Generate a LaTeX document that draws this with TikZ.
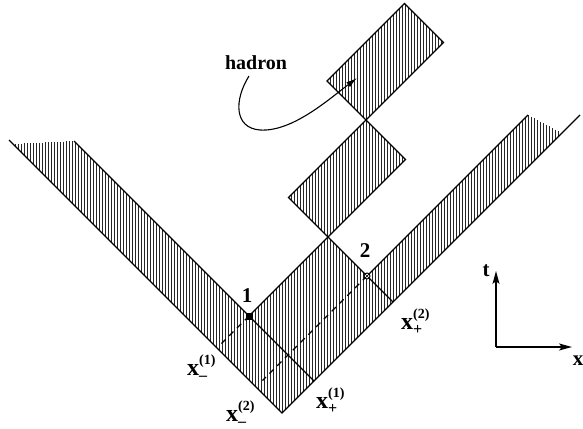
\documentclass[tikz,border=0pt]{standalone}
\usepackage{fontspec}
\setmainfont{Liberation Serif}
\usetikzlibrary{arrows.meta}
\newcommand{\xlc}[2]{x\rlap{\raisebox{11pt}{\fontsize{14}{14}\selectfont(#2)}}\raisebox{-5pt}{\fontsize{16}{16}\selectfont#1}}
\begin{document}
\begin{tikzpicture}[x=1pt,y=-1pt,
  edge/.style={line width=1.3pt, black},
  hatch/.style={line width=1.2pt, black!85},
  lab/.style={font=\fontsize{21}{21}\selectfont\bfseries, inner sep=0pt},
  xlab/.style={font=\fontsize{24}{24}\selectfont\bfseries, inner sep=0pt, anchor=base west},
  dashline/.style={line width=1.1pt, dash pattern=on 6pt off 5pt},
  axis/.style={line width=1.4pt, -{Stealth[length=13pt,width=7pt,inset=3pt]}}]
\useasboundingbox (0,0) rectangle (583,428);
% key points
\coordinate (B) at (282,413);
\coordinate (LO) at (9,140);
\coordinate (LI) at (74,141);
\coordinate (P1) at (249,316);
\coordinate (C) at (328,237);
\coordinate (P2) at (367,276);
\coordinate (RI) at (528,115);
\coordinate (RO) at (580,115);
\coordinate (D1) at (314,381);
\coordinate (D2) at (393,302);
% box corners
\coordinate (A1) at (288.5,197.5);
\coordinate (A2) at (366,120);
\coordinate (A3) at (405.5,159.5);
\coordinate (E1) at (327,81);
\coordinate (E2) at (404.5,3.5);
\coordinate (E3) at (443.5,42.5);
% hatching of the strips and the collision region
\foreach \i in {15.5,18.5,...,561} {
  \pgfmathsetmacro\up{\i<74 ? 144-(\i-13)*3/61 : (\i<249 ? \i+67 : (\i<328 ? 565-\i : (\i<367 ? \i-91 : (\i<528 ? 643-\i : 115+(\i-528)*18/34))))}
  \pgfmathsetmacro\lo{\i<282 ? \i+131 : 695-\i}
  \draw[hatch] (\i,\up) -- (\i,\lo);
}
% hatching of the hadron boxes
\foreach \i in {291.5,294.5,...,405} {
  \pgfmathsetmacro\up{\i<366 ? 486-\i : \i-246}
  \pgfmathsetmacro\lo{\i<328 ? \i-91 : 565-\i}
  \draw[hatch] (\i,\up) -- (\i,\lo);
}
\foreach \i in {330.5,333.5,...,443} {
  \pgfmathsetmacro\up{\i<404.5 ? 408-\i : \i-401}
  \pgfmathsetmacro\lo{\i<366 ? \i-246 : 486-\i}
  \draw[hatch] (\i,\up) -- (\i,\lo);
}
% dashed lines
\coordinate (Q1) at (221.5,343.5);
\coordinate (Q2) at (262.5,380.5);
\draw[dashline] (P1) -- (Q1);
\draw[dashline] (P2) -- (Q2);
% strip lines
\draw[edge] (LO) -- (B) -- (RO);
\draw[edge] (LI) -- (P1) -- (D1);
\draw[edge] (P1) -- (C) -- (P2) -- (D2);
\draw[edge] (P2) -- (RI);
% boxes
\draw[edge] (C) -- (A1) -- (A2) -- (A3) -- cycle;
\draw[edge] (A2) -- (E1) -- (E2) -- (E3) -- cycle;
% points
\fill (245.5,312.5) rectangle (252.5,319.5);
\node[circle, draw, fill=white, line width=1pt, minimum size=6pt, inner sep=0pt] (pt2) at (P2) {};
\draw[line width=0.7pt] (pt2.north west) -- (pt2.south east) (pt2.north east) -- (pt2.south west);
% labels
\node[lab] (n1) at (247,296) {1};
\node[lab] (n2) at (365,251) {2};
\node[lab, font=\fontsize{20}{20}\selectfont\bfseries] (had) at (256,63) {hadron};
\coordinate (tip) at (357,78);
\draw[line width=1.1pt, -{Latex[length=11pt,width=6pt]}] (249,76) .. controls (234,100) and (234,128) .. (260,130) .. controls (292,132) and (328,100) .. (tip);
\node[xlab] (xm1) at (187,375) {\xlc{–}{1}};
\node[xlab] (xm2) at (226,421) {\xlc{–}{2}};
\node[xlab] (xp1) at (316,408) {\xlc{+}{1}};
\node[xlab] (xp2) at (401,329) {\xlc{+}{2}};
% axes
\coordinate (O) at (496,347);
\coordinate (T) at (496,271);
\coordinate (X) at (572,347);
\draw[axis] (O) -- (T);
\draw[axis] (O) -- (X);
\node[lab] (tl) at (486,271) {t};
\node[lab] (xl) at (578,361) {x};
\end{tikzpicture}
\end{document}
